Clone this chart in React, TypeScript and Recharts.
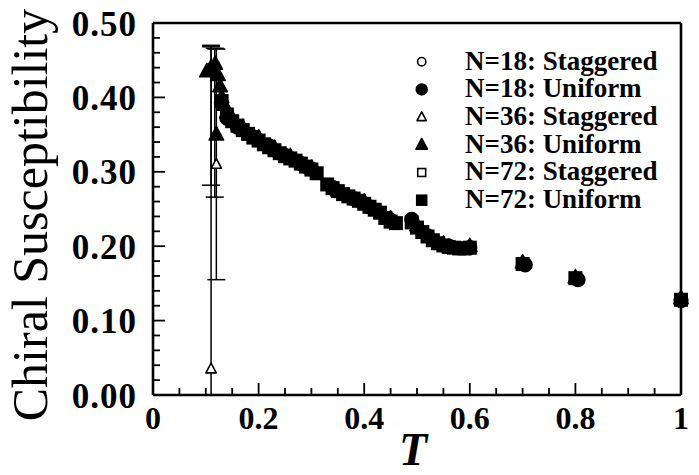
import { ScatterChart, Scatter, XAxis, YAxis, ErrorBar, Legend } from "recharts"

// temperature ticks (every 0.05, labelled every 0.2) and chi ticks (every 0.02, labelled every 0.1)
const X_TICKS = [0, 0.05, 0.1, 0.15, 0.2, 0.25, 0.3, 0.35, 0.4, 0.45, 0.5, 0.55, 0.6, 0.65, 0.7, 0.75, 0.8, 0.85, 0.9, 0.95, 1]
const Y_TICKS = [0, 0.02, 0.04, 0.06, 0.08, 0.1, 0.12, 0.14, 0.16, 0.18, 0.2, 0.22, 0.24, 0.26, 0.28, 0.3, 0.32, 0.34, 0.36, 0.38, 0.4, 0.42, 0.44, 0.46, 0.48, 0.5]

// staggered chirality (big error bars near T ~ 0.11), [down, up] errors
const T_18S = [0.11]
const CHI_18S = [0.44]
const ERR_18S = [[0.158, 0.028]]

const T_36S = [0.11, 0.12]
const CHI_36S = [0.035, 0.31]
const ERR_36S = [[0.035, 0.435], [0.155, 0.155]]

const T_72S = [0.117]
const CHI_72S = [0.44]
const ERR_72S = [[0.174, 0.026]]

// uniform chirality
const T_18U = [0.14, 0.16, 0.19, 0.22, 0.25, 0.28, 0.3, 0.34, 0.38, 0.41, 0.45, 0.49, 0.52, 0.56, 0.6, 0.705, 0.805, 1.0]
const CHI_18U = [0.372, 0.36, 0.347, 0.335, 0.322, 0.311, 0.304, 0.279, 0.264, 0.253, 0.235, 0.236, 0.214, 0.2, 0.198, 0.175, 0.155, 0.127]

const T_36U = [0.102, 0.11, 0.118, 0.12, 0.123, 0.127, 0.13, 0.135, 0.14, 0.15, 0.17, 0.2, 0.23, 0.26, 0.3, 0.35, 0.4, 0.45, 0.5, 0.55, 0.6, 0.7, 0.8, 1.0]
const CHI_36U = [0.435, 0.44, 0.445, 0.35, 0.43, 0.415, 0.4, 0.39, 0.38, 0.372, 0.36, 0.346, 0.332, 0.321, 0.305, 0.275, 0.26, 0.237, 0.228, 0.203, 0.2, 0.178, 0.158, 0.13]

const T_72U = [0.13, 0.14, 0.15, 0.16, 0.17, 0.18, 0.19, 0.2, 0.21, 0.22, 0.23, 0.24, 0.25, 0.26, 0.27, 0.28, 0.29, 0.3, 0.31, 0.33, 0.34, 0.35, 0.36, 0.37, 0.38, 0.39, 0.4, 0.41, 0.42, 0.43, 0.44, 0.45, 0.46, 0.49, 0.5, 0.51, 0.52, 0.53, 0.54, 0.55, 0.56, 0.57, 0.58, 0.59, 0.6, 0.7, 0.8, 1.0]
const CHI_72U = [0.395, 0.377, 0.368, 0.362, 0.356, 0.351, 0.346, 0.342, 0.337, 0.333, 0.329, 0.325, 0.321, 0.318, 0.315, 0.311, 0.307, 0.303, 0.298, 0.283, 0.278, 0.274, 0.27, 0.267, 0.264, 0.261, 0.257, 0.253, 0.249, 0.245, 0.238, 0.233, 0.231, 0.232, 0.225, 0.219, 0.213, 0.208, 0.204, 0.201, 0.199, 0.198, 0.197, 0.197, 0.198, 0.176, 0.157, 0.128]

const LEGEND = [
  { label: "N=18: Staggered", kind: "circle", filled: false },
  { label: "N=18: Uniform", kind: "circle", filled: true },
  { label: "N=36: Staggered", kind: "triangle", filled: false },
  { label: "N=36: Uniform", kind: "triangle", filled: true },
  { label: "N=72: Staggered", kind: "square", filled: false },
  { label: "N=72: Uniform", kind: "square", filled: true },
]

const SERIF = "Liberation Serif, DejaVu Serif, serif"
const textStyle = { fontFamily: SERIF }

const toRows = (ts: number[], chis: number[], errs?: any[]) =>
  ts.map((t, i) => ({ t, chi: chis[i], err: errs ? errs[i] : undefined }))

const near = (v: number, step: number) => Math.abs(v / step - Math.round(v / step)) < 1e-6

function Mark({ cx, cy, kind, filled, scale = 1 }: any) {
  if (cx == null || cy == null) return null
  const fill = filled ? "#000" : "#fff"
  const sw = 1.6
  if (kind === "circle") {
    const r = (filled ? 6.8 : 4.6) * scale
    return <circle cx={cx} cy={cy} r={r} fill={fill} stroke="#000" strokeWidth={sw} />
  }
  if (kind === "triangle") {
    const s = (filled ? 7.2 : 5.2) * scale
    const pts = `${cx},${cy - s * 1.1} ${cx - s},${cy + s * 0.75} ${cx + s},${cy + s * 0.75}`
    return <polygon points={pts} fill={fill} stroke="#000" strokeWidth={sw} strokeLinejoin="round" />
  }
  const h = (filled ? 6.2 : 4.4) * scale
  return <rect x={cx - h} y={cy - h} width={h * 2} height={h * 2} fill={fill} stroke="#000" strokeWidth={sw} />
}

const shapeOf = (kind: string, filled: boolean) => (p: any) => <Mark cx={p.cx} cy={p.cy} kind={kind} filled={filled} />

function BottomTick({ x, y, payload }: any) {
  const v = payload.value
  const major = near(v, 0.2)
  return (
    <g>
      <line x1={x} x2={x} y1={y} y2={y - (major ? 12 : 7)} stroke="#000" strokeWidth={1.8} />
      {major && (
        <text x={x} y={y + 34} textAnchor="middle" style={textStyle} fontWeight="bold" fontSize={32} fill="#000">
          {String(Math.round(v * 10) / 10)}
        </text>
      )}
    </g>
  )
}

function TopTick({ x, y, payload }: any) {
  const major = near(payload.value, 0.2)
  return <line x1={x} x2={x} y1={y} y2={y + (major ? 12 : 7)} stroke="#000" strokeWidth={1.8} />
}

function LeftTick({ x, y, payload }: any) {
  const v = payload.value
  const major = near(v, 0.1)
  return (
    <g>
      <line x1={x} x2={x + (major ? 12 : 7)} y1={y} y2={y} stroke="#000" strokeWidth={1.8} />
      {major && (
        <text x={x - 16} y={y} dy="0.36em" textAnchor="end" style={textStyle} fontWeight="bold" fontSize={35} letterSpacing={1} fill="#000">
          {v.toFixed(2)}
        </text>
      )}
    </g>
  )
}

function RightTick({ x, y, payload }: any) {
  const major = near(payload.value, 0.1)
  return <line x1={x} x2={x - (major ? 12 : 7)} y1={y} y2={y} stroke="#000" strokeWidth={1.8} />
}

function LegendBox() {
  return (
    <svg width={280} height={175} style={{ display: "block", overflow: "visible" }}>
      {LEGEND.map((item, i) => (
        <g key={item.label}>
          <Mark cx={21.7} cy={21.7 + i * 27.7} kind={item.kind} filled={item.filled} scale={item.filled ? 0.8 : 0.9} />
          <text x={65} y={29.5 + i * 27.7} style={textStyle} fontWeight="bold" fontSize={27} fill="#000">
            {item.label}
          </text>
        </g>
      ))}
    </svg>
  )
}

const axisStroke = { stroke: "#000", strokeWidth: 2.6 }

export default function App() {
  return (
    <div style={{ position: "absolute", left: 0, top: 0, background: "#fff" }}>
      <ScatterChart width={699} height={475} margin={{ top: 22, right: 17, bottom: 79, left: 152 }}>
        <XAxis
          xAxisId="b"
          type="number"
          dataKey="t"
          domain={[0, 1]}
          ticks={X_TICKS}
          interval={0}
          height={1}
          tickSize={0}
          tickMargin={0}
          tickLine={false}
          axisLine={axisStroke}
          tick={<BottomTick />}
          label={(p: any) => (
            <text x={p.viewBox.x + p.viewBox.width / 2 - 4} y={465} textAnchor="middle" style={textStyle} fontStyle="italic" fontWeight="bold" fontSize={46} fill="#000">
              T
            </text>
          )}
        />
        <XAxis
          xAxisId="t"
          orientation="top"
          type="number"
          dataKey="t"
          domain={[0, 1]}
          ticks={X_TICKS}
          interval={0}
          height={1}
          tickSize={0}
          tickMargin={0}
          tickLine={false}
          axisLine={axisStroke}
          tick={<TopTick />}
        />
        <YAxis
          yAxisId="l"
          type="number"
          dataKey="chi"
          domain={[0, 0.5]}
          ticks={Y_TICKS}
          interval={0}
          width={1}
          tickSize={0}
          tickMargin={0}
          tickLine={false}
          axisLine={axisStroke}
          tick={<LeftTick />}
          label={(p: any) => {
            const cy = p.viewBox.y + p.viewBox.height / 2 + 6
            return (
              <text x={47} y={cy} transform={`rotate(-90 47 ${cy})`} textAnchor="middle" style={textStyle} fontSize={50} fill="#000">
                Chiral Susceptibility
              </text>
            )
          }}
        />
        <YAxis
          yAxisId="r"
          orientation="right"
          type="number"
          dataKey="chi"
          domain={[0, 0.5]}
          ticks={Y_TICKS}
          interval={0}
          width={1}
          tickSize={0}
          tickMargin={0}
          tickLine={false}
          axisLine={axisStroke}
          tick={<RightTick />}
        />

        <Scatter name="N=18: Staggered" xAxisId="b" yAxisId="l" data={toRows(T_18S, CHI_18S, ERR_18S)} shape={shapeOf("circle", false)} isAnimationActive={false}>
          <ErrorBar dataKey="err" direction="y" width={9} stroke="#000" strokeWidth={1.5} />
        </Scatter>
        <Scatter name="N=36: Staggered" xAxisId="b" yAxisId="l" data={toRows(T_36S, CHI_36S, ERR_36S)} shape={shapeOf("triangle", false)} isAnimationActive={false}>
          <ErrorBar dataKey="err" direction="y" width={9} stroke="#000" strokeWidth={1.5} />
        </Scatter>
        <Scatter name="N=72: Staggered" xAxisId="b" yAxisId="l" data={toRows(T_72S, CHI_72S, ERR_72S)} shape={shapeOf("square", false)} isAnimationActive={false}>
          <ErrorBar dataKey="err" direction="y" width={9} stroke="#000" strokeWidth={1.5} />
        </Scatter>
        <Scatter name="N=72: Uniform" xAxisId="b" yAxisId="l" data={toRows(T_72U, CHI_72U)} shape={shapeOf("square", true)} isAnimationActive={false} />
        <Scatter name="N=18: Uniform" xAxisId="b" yAxisId="l" data={toRows(T_18U, CHI_18U)} shape={shapeOf("circle", true)} isAnimationActive={false} />
        <Scatter name="N=36: Uniform" xAxisId="b" yAxisId="l" data={toRows(T_36U, CHI_36U)} shape={shapeOf("triangle", true)} isAnimationActive={false} />

        <Legend
          layout="vertical"
          align="center"
          verticalAlign="middle"
          content={() => <LegendBox />}
          wrapperStyle={{ position: "absolute", left: 400, top: 40, width: 280, height: 175 }}
        />
      </ScatterChart>
    </div>
  )
}
